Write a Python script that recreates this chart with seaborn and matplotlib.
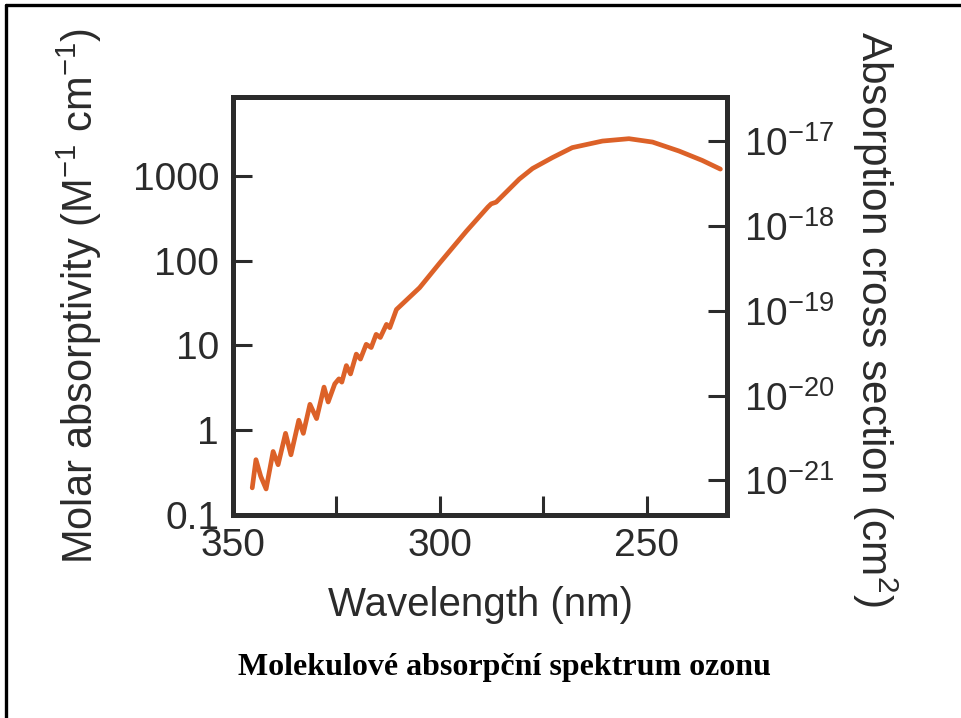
import matplotlib
matplotlib.use("Agg")
import matplotlib.pyplot as plt
from matplotlib.lines import Line2D
import numpy as np
import pandas as pd
import seaborn as sns

# ozone absorption spectrum
wavelength = [345.35, 344.45, 343.3, 342.0, 340.3, 339.1, 337.3, 336.0, 334.1, 333.0,
              331.4, 329.8, 328.0, 327.0, 325.4, 324.4, 323.7, 322.6, 321.6, 320.2,
              319.2, 317.8, 316.6, 315.4, 314.4, 312.9, 312.1, 310.5, 304.9, 300.1,
              293.6, 288.4, 287.6, 286.4, 280.8, 277.6, 272.8, 268.0, 260.7, 254.3,
              248.6, 242.2, 236.6, 232.2]
absorptivity = [0.209, 0.449, 0.286, 0.203, 0.561, 0.392, 0.918, 0.513, 1.31, 0.918,
                2.02, 1.37, 3.22, 2.15, 3.52, 4.03, 3.69, 5.78, 4.61, 7.89,
                6.90, 10.3, 9.44, 13.5, 12.4, 17.7, 16.2, 26.5, 47.9, 92.9,
                222, 428, 467, 489, 915, 1220, 1640, 2150, 2570, 2740,
                2500, 1960, 1520, 1200]

left_ticks = [0.1, 1, 10, 100, 1000]
left_labels = ["0.1", "1", "10", "100", "1000"]
right_ticks = [1e-21, 1e-20, 1e-19, 1e-18, 1e-17]
x_ticks = [350, 325, 300, 275, 250]
x_labels = ["350", "", "300", "", "250"]
sigma_per_eps = 3.9e-21  # cm^2 per (M^-1 cm^-1)

df = pd.DataFrame({"wl": wavelength, "eps": absorptivity})

sns.set_style("ticks")
plt.rcParams["font.family"] = ["Liberation Sans", "DejaVu Sans"]
plt.rcParams["mathtext.fontset"] = "custom"
plt.rcParams["mathtext.rm"] = "Liberation Sans"
plt.rcParams["mathtext.it"] = "Liberation Sans:italic"
plt.rcParams["mathtext.bf"] = "Liberation Sans:bold"

txt = "#2b2b2b"
line_col = "#dc6128"

fig = plt.figure(figsize=(9.61, 7.18), dpi=100)
ax = fig.add_axes([233 / 961, 1 - 515 / 718, 494 / 961, 418 / 718])

sns.lineplot(data=df, x="wl", y="eps", ax=ax, color=line_col, lw=3.4,
             estimator=None, sort=False)

ax.set_yscale("log")
ax.set_xlim(350, 230.6)
ax.set_ylim(0.111, 8500)
ax.set_yticks(left_ticks)
ax.set_yticklabels(left_labels)
ax.minorticks_off()
ax.set_xticks(x_ticks)
ax.set_xticklabels(x_labels)

for s in ["left", "right", "bottom", "top"]:
    ax.spines[s].set_linewidth(3.6)
    ax.spines[s].set_color(txt)

ax.tick_params(axis="both", direction="in", length=14, width=2.2, color=txt,
               labelsize=28, labelcolor=txt)
ax.tick_params(axis="y", pad=10)
ax.tick_params(axis="x", pad=9)

ax.set_xlabel("Wavelength (nm)", fontsize=29, color=txt)
ax.set_ylabel("Molar absorptivity (M$^{-1}$ cm$^{-1}$)", fontsize=30, color=txt)
ax.xaxis.set_label_coords(0.5, -0.17)
ax.yaxis.set_label_coords(-0.262, 0.523)

sec = ax.secondary_yaxis("right", functions=(lambda e: e * sigma_per_eps,
                                             lambda s: s / sigma_per_eps))
sec.set_yticks(right_ticks)
sec.minorticks_off()
sec.spines["right"].set_linewidth(3.6)
sec.spines["right"].set_color(txt)
sec.tick_params(axis="y", direction="in", length=14, width=2.2, color=txt,
                labelsize=28, labelcolor=txt, pad=12)
sec.set_ylabel("Absorption cross section (cm$^{2}$)", fontsize=30.5, color=txt,
               rotation=270, va="bottom")
sec.yaxis.set_label_coords(1.25, 0.469, transform=ax.transAxes)

fig.text(504 / 961, 1 - 668 / 718, "Molekulové absorpční spektrum ozonu",
         family="Liberation Serif", fontweight="bold", fontsize=23,
         ha="center", va="center", color="black")

# frame lines (left and top)
fig.add_artist(Line2D([6 / 961, 6 / 961], [0, 1 - 5 / 718], color="black", lw=2.4))
fig.add_artist(Line2D([6 / 961, 1], [1 - 5 / 718, 1 - 5 / 718], color="black", lw=2.4))

fig.savefig("out.png", dpi=100)
